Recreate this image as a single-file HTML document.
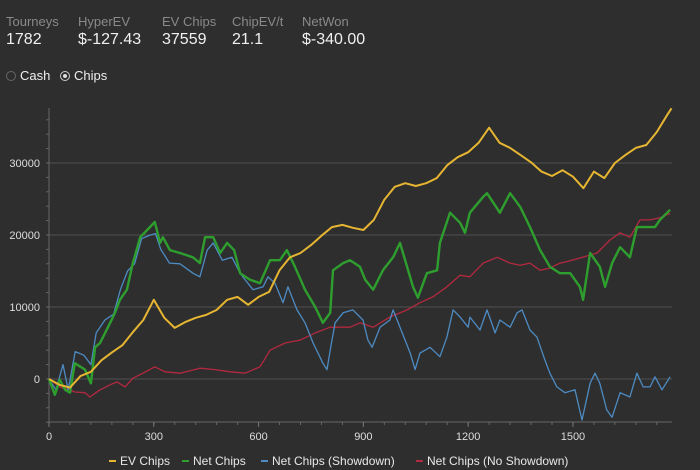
<!DOCTYPE html>
<html><head><meta charset="utf-8"><style>
body{margin:0;background:#2e2e2e;width:700px;height:470px;overflow:hidden;font-family:"Liberation Sans",sans-serif;position:relative}
.st{position:absolute;top:14px}
.st .l{color:#8a8a8a;font-size:13px}
.st .v{color:#f0f0f0;font-size:16px;margin-top:2px}
.radio{position:absolute;top:68px;color:#eee;font-size:13px;display:flex;align-items:center}
.rc{width:10px;height:10px;border:1px solid #666;border-radius:50%;margin-right:4px;box-sizing:border-box;position:relative}
.rc.on{border:1px solid #ccc}
.rc.on::after{content:"";position:absolute;left:2px;top:2px;width:4px;height:4px;border-radius:50%;background:#ddd}
svg{position:absolute;left:0;top:0}
</style></head><body>
<div class="st" style="left:6px"><div class="l">Tourneys</div><div class="v">1782</div></div>
<div class="st" style="left:78px"><div class="l">HyperEV</div><div class="v">$-127.43</div></div>
<div class="st" style="left:162px"><div class="l">EV Chips</div><div class="v">37559</div></div>
<div class="st" style="left:232px"><div class="l">ChipEV/t</div><div class="v">21.1</div></div>
<div class="st" style="left:302px"><div class="l">NetWon</div><div class="v">$-340.00</div></div>
<div class="radio" style="left:6px"><div class="rc"></div>Cash</div>
<div class="radio" style="left:60px"><div class="rc on"></div>Chips</div>
<svg id="chart" width="700" height="470"></svg>
<script>
const evT=[0,30,60,90,120,150,180,210,240,270,300,330,360,390,420,450,480,510,540,570,600,630,660,690,720,750,780,810,840,870,900,930,960,990,1020,1050,1080,1110,1140,1170,1200,1230,1260,1290,1320,1350,1380,1410,1440,1470,1500,1530,1560,1590,1620,1650,1680,1710,1740,1770,1782];
const evV=[0,-800,-1200,400,1000,2600,3700,4700,6500,8200,11000,8500,7100,7900,8500,8900,9600,11000,11400,10300,11400,12100,15100,16900,17500,18600,19900,21100,21400,21000,20700,22100,24900,26700,27200,26800,27200,27900,29700,30800,31500,32800,34900,32800,32100,31100,30100,28800,28200,29000,28100,26500,28800,27900,30000,31100,32100,32500,34300,36700,37600];
const netT=[0,17,31,46,60,74,103,120,132,146,169,189,203,223,240,261,281,303,318,326,346,375,412,432,447,470,490,510,530,547,575,604,633,661,681,704,733,762,784,805,813,842,862,890,905,928,956,985,1005,1042,1056,1082,1111,1119,1148,1177,1191,1205,1243,1254,1291,1320,1349,1377,1406,1434,1463,1492,1520,1529,1549,1577,1592,1612,1635,1663,1683,1706,1735,1749,1778];
const netV=[0,-2200,-100,-1500,-1900,2200,1300,-600,4400,5000,7200,9200,11000,12400,16100,19700,20700,21800,18900,19700,17900,17500,16900,16100,19700,19700,17500,18900,17900,14700,13800,13300,16500,16500,17900,15600,12400,10000,7800,9200,15100,16100,16500,15600,13800,12400,15100,16900,18900,12800,11300,14700,15100,18900,23100,21700,20300,23100,25300,25800,23100,25800,23900,21100,17900,15600,14700,14700,12800,11000,17500,15600,12800,16100,18300,16900,21100,21100,21100,22100,23500];
const sdT=[0,20,40,55,75,100,120,135,160,185,205,225,245,265,290,305,320,345,375,412,432,453,470,496,524,547,561,584,613,627,647,670,684,710,733,756,784,796,805,819,842,870,899,913,925,948,976,985,1005,1034,1048,1062,1091,1119,1139,1157,1177,1200,1205,1234,1254,1277,1291,1320,1340,1354,1377,1397,1420,1434,1454,1477,1506,1526,1549,1563,1577,1597,1612,1635,1663,1683,1701,1721,1735,1755,1778];
const sdV=[0,-1500,2000,-1500,3800,3300,2000,6400,8200,9000,12500,15000,16000,19500,20000,20200,18000,16100,16000,14700,14200,17900,18900,16500,16900,14700,13800,12400,12800,14200,13300,10600,12800,9600,7800,5000,2200,1300,4000,7800,9200,9600,8200,5400,4400,7200,8200,9600,7200,3600,1300,3600,4400,3100,5800,9600,8600,7200,8600,6800,9600,6400,8200,7200,9200,9600,6800,5800,2600,800,-1100,-1900,-1500,-5700,-600,800,-600,-4300,-5300,-1900,-2500,800,-1100,-1100,300,-1500,300];
const nsdT=[0,31,60,74,103,117,146,175,195,218,240,269,303,332,375,432,475,518,561,604,633,676,719,762,805,862,890,928,976,1025,1062,1099,1139,1177,1205,1243,1283,1320,1349,1377,1406,1434,1463,1483,1520,1569,1606,1635,1663,1692,1721,1749,1778];
const nsdV=[0,-1100,-1500,-1800,-1900,-2500,-1500,-800,-400,-1100,100,800,1700,1000,800,1500,1300,1000,800,1700,4000,5000,5400,6400,7200,7200,7800,7200,8600,9600,10600,11400,12800,14400,14200,16100,16900,16100,15800,16100,15100,15400,16100,16300,16800,17500,19300,20300,19700,22100,22100,22400,23000];
const yTicks=[0,10000,20000,30000];
const xTicks=[0,300,600,900,1200,1500];
const legendNames=["EV Chips","Net Chips","Net Chips (Showdown)","Net Chips (No Showdown)"];
const legendColors=["#e6b532","#2e9e2e","#4d8bc2","#b3293f"];

const NS="http://www.w3.org/2000/svg";
const svg=document.getElementById('chart');
const X0=49,XS=0.3493,Y0=379,YS=0.0072;
const xs=t=>X0+t*XS, ys=v=>Y0-v*YS;
function mk(tag,at){const e=document.createElementNS(NS,tag);for(const k in at)e.setAttribute(k,at[k]);svg.appendChild(e);return e;}
// grid
yTicks.forEach(v=>{
 const g=mk('line',{x1:X0,x2:672,y1:ys(v),y2:ys(v),stroke:'#4a4a4a','stroke-width':1.2});
 
 
 const t=mk('text',{x:40,y:ys(v)+4,'text-anchor':'end',fill:'#ddd','font-size':11,'font-family':'Liberation Sans,sans-serif'});
 t.textContent=v;
 
 
});
for(let v=-6000;v<=36000;v+=2000){mk('line',{x1:X0-3,x2:X0,y1:ys(v),y2:ys(v),stroke:'#666'});}
for(let t=0;t<=1782;t+=60){mk('line',{x1:xs(t),x2:xs(t),y1:422,y2:425,stroke:'#666'});}
const ya=mk('line',{x1:X0,x2:X0,y1:108,y2:422,stroke:'#666'});


const xa=mk('line',{x1:X0,x2:672,y1:422,y2:422,stroke:'#666'});


xTicks.forEach(t=>{
 const e=mk('line',{x1:xs(t),x2:xs(t),y1:422,y2:427,stroke:'#777'});
 const l=mk('text',{x:xs(t),y:440,'text-anchor':'middle',fill:'#ddd','font-size':11,'font-family':'Liberation Sans,sans-serif'});
 l.textContent=t;
 
 
});
function line(T,V,col,w,name){
 const d=T.map((t,i)=>(i?'L':'M')+xs(t).toFixed(1)+','+ys(V[i]).toFixed(1)).join('');
 const p=mk('path',{d:d,fill:'none',stroke:col,'stroke-width':w,'stroke-linejoin':'round'});
 
 
}
line(nsdT,nsdV,legendColors[3],1.3,'no-showdown-line');
line(sdT,sdV,legendColors[2],1.3,'showdown-line');
line(netT,netV,legendColors[1],2.4,'net-chips-line');
line(evT,evV,legendColors[0],2,'ev-chips-line');
const lx=[109,182,261,416];
legendNames.forEach((n,i)=>{
 const m=mk('line',{x1:lx[i],x2:lx[i]+7,y1:461,y2:461,stroke:legendColors[i],'stroke-width':2});
 const t=mk('text',{x:lx[i]+11,y:465,fill:'#e8e8e8','font-size':12,'font-family':'Liberation Sans,sans-serif'});
 t.textContent=n;
 
 
});
</script>
</body></html>
